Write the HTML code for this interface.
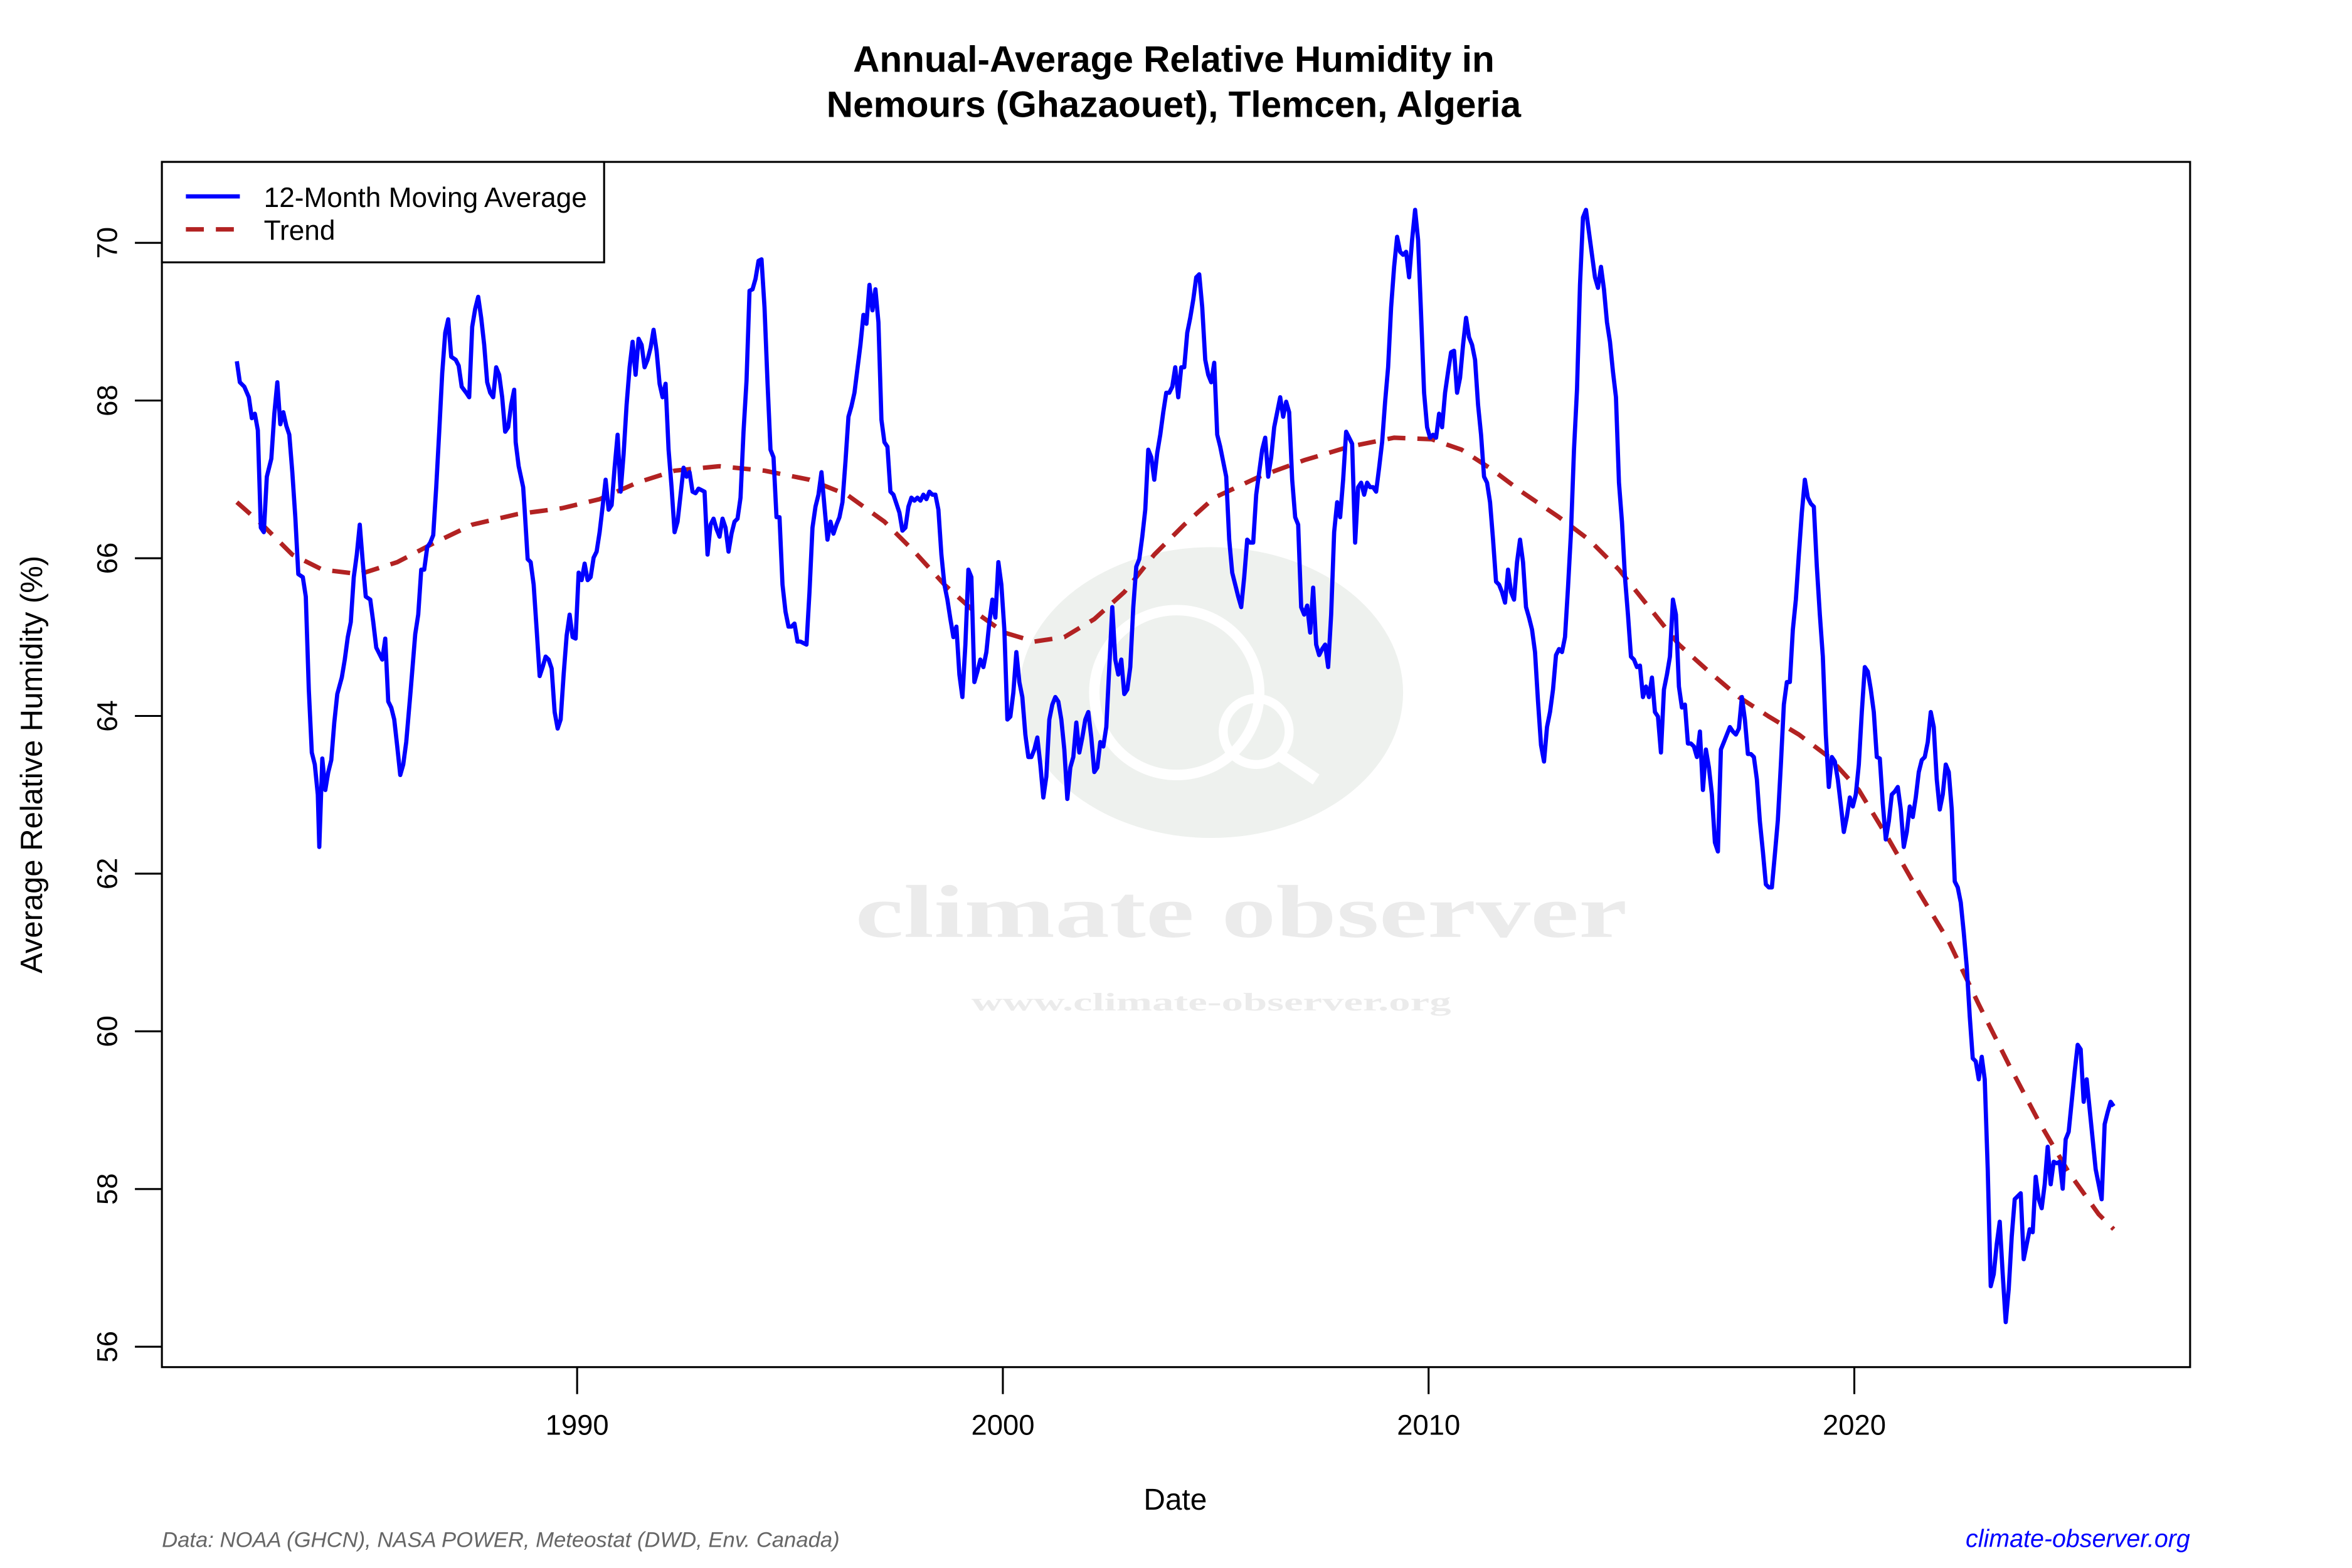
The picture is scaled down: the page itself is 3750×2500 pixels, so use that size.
<!DOCTYPE html>
<html><head><meta charset="utf-8"><style>html,body{margin:0;padding:0;background:#fff}svg{display:block}</style></head>
<body>
<svg width="3750" height="2500" viewBox="0 0 1569 1046" xmlns="http://www.w3.org/2000/svg" font-family="Liberation Sans, sans-serif">
<rect width="1569" height="1046" fill="#fff"/>
<!-- watermark -->
<ellipse cx="808" cy="462" rx="128" ry="97" fill="#eef1ee"/>
<circle cx="785" cy="462" r="55" fill="none" stroke="#fff" stroke-width="7"/>
<circle cx="838" cy="488" r="22" fill="none" stroke="#fff" stroke-width="6"/>
<line x1="854" y1="504" x2="878" y2="520" stroke="#fff" stroke-width="8"/>
<text x="828" y="625" font-family="Liberation Serif, serif" font-weight="bold" font-size="50" fill="#ebebeb" text-anchor="middle" textLength="515" lengthAdjust="spacingAndGlyphs">climate observer</text>
<text x="808" y="674" font-family="Liberation Serif, serif" font-weight="bold" font-size="17" fill="#ebebeb" text-anchor="middle" textLength="320" lengthAdjust="spacingAndGlyphs">www.climate-observer.org</text>
<!-- title -->
<text x="783" y="48" font-size="24.5" font-weight="bold" text-anchor="middle">Annual-Average Relative Humidity in</text>
<text x="783" y="78" font-size="24.5" font-weight="bold" text-anchor="middle">Nemours (Ghazaouet), Tlemcen, Algeria</text>
<!-- axes ticks -->
<g stroke="#000" stroke-width="1.3">
<line x1="385" y1="912" x2="385" y2="930"/><line x1="669" y1="912" x2="669" y2="930"/><line x1="953" y1="912" x2="953" y2="930"/><line x1="1237" y1="912" x2="1237" y2="930"/>
<line x1="90" y1="162" x2="108" y2="162"/><line x1="90" y1="267.2" x2="108" y2="267.2"/><line x1="90" y1="372.4" x2="108" y2="372.4"/><line x1="90" y1="477.6" x2="108" y2="477.6"/><line x1="90" y1="582.8" x2="108" y2="582.8"/><line x1="90" y1="688" x2="108" y2="688"/><line x1="90" y1="793.2" x2="108" y2="793.2"/><line x1="90" y1="898.4" x2="108" y2="898.4"/>
</g>
<g font-size="19" text-anchor="middle">
<text x="385" y="957">1990</text><text x="669" y="957">2000</text><text x="953" y="957">2010</text><text x="1237" y="957">2020</text>
<text transform="translate(78,162) rotate(-90)">70</text>
<text transform="translate(78,267.2) rotate(-90)">68</text>
<text transform="translate(78,372.4) rotate(-90)">66</text>
<text transform="translate(78,477.6) rotate(-90)">64</text>
<text transform="translate(78,582.8) rotate(-90)">62</text>
<text transform="translate(78,688) rotate(-90)">60</text>
<text transform="translate(78,793.2) rotate(-90)">58</text>
<text transform="translate(78,898.4) rotate(-90)">56</text>
</g>
<text x="784" y="1007" font-size="20" text-anchor="middle">Date</text>
<text transform="translate(28,510) rotate(-90)" font-size="20.5" text-anchor="middle">Average Relative Humidity (%)</text>
<!-- series -->
<polyline fill="none" stroke="#b22222" stroke-width="3" stroke-dasharray="12,8" points="158,335 175,350 195,370 215,380 240,383 265,375 290,362 315,350 345,343 375,339 400,333 425,322 450,314 480,311 510,314 540,320 565,330 590,348 610,368 630,390 650,408 670,422 690,428 710,425 730,413 750,395 770,370 790,350 810,332 840,318 870,307 900,298 930,292 955,293 975,300 995,313 1015,328 1040,345 1060,360 1080,380 1100,405 1120,430 1140,448 1160,465 1180,478 1200,490 1220,505 1240,527 1260,560 1280,595 1300,628 1320,670 1340,710 1360,748 1380,782 1400,810 1410,820"/>
<polyline fill="none" stroke="#0000ff" stroke-width="2.8" stroke-linejoin="round" points="158,241 160,255 163,258 166,265 168,279 170,276 172,287 174,352 176,355 178,318 181,306 183,276 185,255 187,283 189,275 191,284 193,290 195,315 197,345 199,383 202,385 204,398 206,460 208,502 210,510 212,530 213,565 215,506 217,527 219,515 221,507 223,482 225,463 228,452 230,440 232,425 234,415 236,385 238,370 240,350 242,375 244,398 247,400 249,415 251,432 253,436 255,440 257,426 259,468 261,472 263,480 265,498 267,517 269,510 271,495 274,460 277,423 279,410 281,380 283,380 285,365 287,362 289,357 291,325 293,288 295,249 297,222 299,213 301,238 304,240 306,244 308,258 311,262 313,265 315,218 317,206 319,198 321,212 323,230 325,255 327,262 329,265 331,245 333,250 335,265 337,288 339,285 341,270 343,260 344,295 346,311 349,325 350,340 352,373 354,375 356,390 358,420 360,451 362,445 364,438 366,440 368,446 370,475 372,486 374,480 376,450 378,424 380,410 382,425 384,426 386,382 388,387 390,376 392,387 394,385 396,372 398,368 400,355 402,338 404,320 406,340 408,337 410,312 412,290 414,328 416,303 418,270 420,245 422,228 424,250 426,226 428,230 430,245 432,240 434,232 436,220 438,234 440,256 442,265 444,256 446,300 448,325 450,355 452,348 454,330 456,312 458,318 460,315 462,328 464,329 466,326 468,327 470,328 472,370 474,350 476,346 478,353 480,358 482,346 484,352 486,368 488,356 490,348 492,346 494,332 496,288 498,254 500,194 502,193 504,186 506,174 508,173 510,205 512,255 514,300 516,305 518,345 520,345 522,390 524,408 526,418 528,418 530,416 532,428 534,428 536,429 538,430 540,395 542,352 544,338 546,330 548,315 550,338 552,360 554,348 556,356 558,350 560,345 562,335 564,308 566,278 568,271 570,262 572,246 574,230 576,210 578,216 580,190 582,207 584,193 586,215 588,280 590,295 592,298 594,328 596,330 598,336 600,342 602,354 604,352 606,338 608,332 610,334 612,332 614,334 616,330 618,333 620,328 622,330 624,330 626,340 628,370 630,390 632,400 634,413 636,425 638,418 640,450 642,465 644,430 646,380 648,385 650,455 652,448 654,440 656,445 658,435 660,415 662,400 664,412 666,375 668,390 670,420 672,480 674,478 676,462 678,435 680,455 682,465 684,490 686,505 688,505 690,500 692,492 694,510 696,532 698,518 700,480 702,470 704,465 706,468 708,480 710,500 712,533 714,512 716,505 718,482 720,502 722,492 724,480 726,475 728,492 730,515 732,512 734,495 736,498 738,485 740,445 742,405 744,440 746,450 748,440 750,463 752,460 754,445 756,405 758,378 760,373 762,358 764,340 766,300 768,305 770,320 772,302 774,290 776,275 778,262 780,262 782,258 784,245 786,265 788,245 790,245 792,222 794,212 796,200 798,185 800,183 802,205 804,240 806,250 808,255 810,242 812,290 814,298 816,308 818,318 820,360 822,382 824,390 826,398 828,405 830,385 832,360 834,362 836,362 838,330 840,315 842,300 844,292 846,318 848,305 850,285 852,275 854,265 856,278 858,268 860,275 862,320 864,345 866,350 868,405 870,410 872,404 874,422 876,392 878,430 880,437 882,433 884,430 886,445 888,410 890,355 892,335 894,345 896,320 898,288 900,292 902,296 904,362 906,325 908,322 910,330 912,322 914,325 916,325 918,328 920,312 922,295 924,268 926,245 928,205 930,178 932,158 934,168 936,170 938,168 940,185 942,160 944,140 946,160 948,210 950,262 952,285 954,292 956,290 958,292 960,276 962,285 964,262 966,248 968,235 970,234 972,262 974,252 976,230 978,212 980,225 982,230 984,240 986,270 988,290 990,318 992,322 994,335 996,360 998,388 1000,390 1002,395 1004,402 1006,380 1008,395 1010,400 1012,375 1014,360 1016,375 1018,405 1020,412 1022,420 1024,435 1026,468 1028,497 1030,508 1032,485 1034,475 1036,460 1038,437 1040,433 1042,435 1044,425 1046,392 1048,355 1050,300 1052,260 1054,190 1056,145 1058,140 1060,155 1062,170 1064,185 1066,192 1068,178 1070,193 1072,215 1074,228 1076,248 1078,265 1080,322 1082,348 1084,385 1086,410 1088,438 1090,440 1092,445 1094,444 1096,465 1098,458 1100,465 1102,452 1104,475 1106,478 1108,502 1110,460 1112,450 1114,438 1116,400 1118,410 1120,458 1122,472 1124,470 1126,496 1128,496 1130,498 1132,505 1134,488 1136,527 1138,500 1140,512 1142,530 1144,562 1146,568 1148,500 1150,495 1152,490 1154,485 1156,488 1158,490 1160,486 1162,465 1164,480 1166,503 1168,503 1170,505 1172,520 1174,548 1176,568 1178,590 1180,592 1182,592 1184,570 1186,547 1188,510 1190,470 1192,455 1194,455 1196,420 1198,400 1200,370 1202,342 1204,320 1206,332 1208,336 1210,338 1212,378 1214,410 1216,438 1218,490 1220,525 1222,505 1224,508 1226,520 1228,537 1230,555 1232,545 1234,532 1236,538 1238,530 1240,510 1242,475 1244,445 1246,448 1248,460 1250,475 1252,505 1254,506 1256,536 1258,560 1260,548 1262,530 1264,528 1266,525 1268,540 1270,565 1272,555 1274,538 1276,545 1278,532 1280,515 1282,507 1284,505 1286,495 1288,475 1290,485 1292,520 1294,540 1296,530 1298,510 1300,515 1302,540 1304,588 1306,592 1308,602 1310,622 1312,645 1314,678 1316,706 1318,708 1320,720 1322,705 1324,720 1326,780 1328,858 1330,850 1332,830 1334,815 1336,850 1338,882 1340,860 1342,825 1344,800 1346,798 1348,796 1350,840 1352,830 1354,820 1356,822 1358,785 1360,800 1362,806 1364,790 1366,765 1368,790 1370,775 1372,776 1374,775 1376,793 1378,760 1380,755 1382,735 1384,715 1386,697 1388,700 1390,735 1392,720 1394,740 1396,760 1398,780 1400,790 1402,800 1404,750 1406,742 1408,735 1410,738"/>
<!-- plot box -->
<rect x="108" y="108" width="1353" height="804" fill="none" stroke="#000" stroke-width="1.3"/>
<!-- legend -->
<rect x="108" y="108" width="295" height="67" fill="#fff" stroke="#000" stroke-width="1.3"/>
<line x1="124" y1="131" x2="160" y2="131" stroke="#0000ff" stroke-width="2.8"/>
<line x1="124" y1="153" x2="160" y2="153" stroke="#b22222" stroke-width="3" stroke-dasharray="12,8"/>
<text x="176" y="138" font-size="18.5">12-Month Moving Average</text>
<text x="176" y="160" font-size="18.5">Trend</text>
<!-- footer -->
<text x="108" y="1032" font-size="14.5" font-style="italic" fill="#666">Data: NOAA (GHCN), NASA POWER, Meteostat (DWD, Env. Canada)</text>
<text x="1461" y="1032" font-size="16.5" font-style="italic" fill="#0000ff" text-anchor="end">climate-observer.org</text>
</svg>
</body></html>
